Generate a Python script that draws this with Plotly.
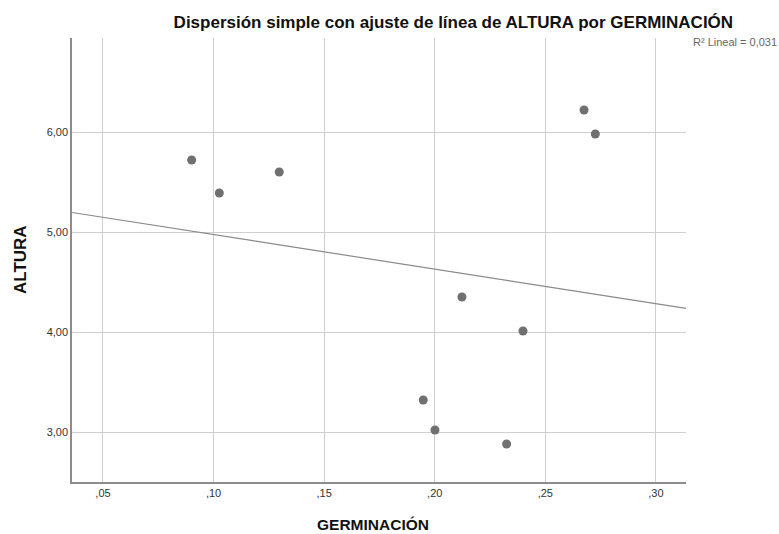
import numpy as np
import plotly.graph_objects as go

germinacion = [0.0901, 0.1026, 0.1297, 0.2675, 0.2726, 0.2123, 0.2399, 0.1948, 0.2001, 0.2325]
altura = [5.72, 5.39, 5.60, 6.22, 5.98, 4.35, 4.01, 3.32, 3.02, 2.88]
x_ticks = [0.05, 0.10, 0.15, 0.20, 0.25, 0.30]
x_tick_labels = [",05", ",10", ",15", ",20", ",25", ",30"]
y_ticks = [3, 4, 5, 6]
y_tick_labels = ["3,00", "4,00", "5,00", "6,00"]
x_range = [0.036, 0.3136]
y_range = [2.5, 6.94]

slope, intercept = np.polyfit(germinacion, altura, 1)
fit_x = np.array(x_range)
fit_y = slope * fit_x + intercept

fig = go.Figure()
fig.add_trace(go.Scatter(x=fit_x, y=fit_y, mode="lines",
                         line=dict(color="#8a8a8a", width=1.2), hoverinfo="skip"))
fig.add_trace(go.Scatter(x=germinacion, y=altura, mode="markers",
                         marker=dict(color="#707070", size=9)))

font = "Liberation Sans, Arial, sans-serif"
fig.update_layout(
    width=779, height=534,
    margin=dict(l=72, r=93, t=38, b=52),
    paper_bgcolor="white", plot_bgcolor="white",
    showlegend=False,
    font=dict(family=font, color="#333333"),
    title=dict(text="<b>Dispersión simple con ajuste de línea de ALTURA por GERMINACIÓN</b>",
               x=0.582, xanchor="center", y=0.958, yanchor="middle",
               font=dict(size=17, color="#111111", family=font)),
    xaxis=dict(range=x_range, tickvals=x_ticks, ticktext=x_tick_labels,
               showgrid=True, gridcolor="#cfcfcf", gridwidth=1,
               showline=True, linecolor="#8c8c8c", linewidth=1.5,
               zeroline=False, ticks="", automargin=False,
               tickfont=dict(size=11, color="#333333")),
    yaxis=dict(range=y_range, tickvals=y_ticks, ticktext=y_tick_labels,
               showgrid=True, gridcolor="#cfcfcf", gridwidth=1,
               showline=True, linecolor="#8c8c8c", linewidth=1.5,
               zeroline=False, ticks="", automargin=False,
               tickfont=dict(size=11, color="#333333")),
    annotations=[
        dict(text="R² Lineal = 0,031", xref="paper", yref="paper",
             x=1.0, y=0.991, xanchor="left", yanchor="middle", xshift=5,
             showarrow=False, font=dict(size=11, color="#666666")),
        dict(text="<b>GERMINACIÓN</b>", xref="paper", yref="paper",
             x=0.49, y=0, xanchor="center", yanchor="middle", yshift=-42,
             showarrow=False, font=dict(size=15.5, color="#111111")),
        dict(text="<b>ALTURA</b>", xref="paper", yref="paper", textangle=-90,
             x=0, y=0.5, xanchor="center", yanchor="middle", xshift=-52,
             showarrow=False, font=dict(size=17, color="#111111")),
    ],
)
fig.write_html("out.html")
